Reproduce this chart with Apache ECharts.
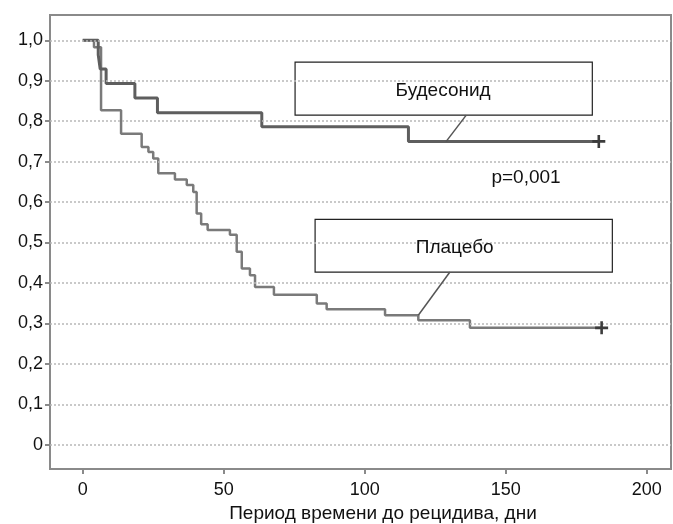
<!DOCTYPE html>
<html>
<head>
<meta charset="utf-8">
<script src="https://cdn.jsdelivr.net/npm/echarts@6/dist/echarts.min.js"></script>
<style>
  html, body { margin: 0; padding: 0; background: #fff; }
  #chart { width: 673px; height: 524px; }
</style>
</head>
<body>
<div id="chart"></div>
<script>
// Kaplan-Meier data (time in days, survival share)
const budTime = [0, 5.5, 6.2, 8.3, 18.5, 26.5, 63.5, 115.5, 183];
const budSurv = [1, 0.964, 0.929, 0.893, 0.857, 0.821, 0.786, 0.75, 0.75];
const placTime = [0, 4, 6.5, 13.6, 20.9, 23.3, 25, 26.8, 32.7, 36.9, 39.2, 40.4, 42, 44.3, 52.2, 54.6, 56.4, 59.3, 61.1, 67.8, 83, 86.5, 107.2, 119, 137.3, 184];
const placSurv = [1, 0.983, 0.827, 0.769, 0.736, 0.724, 0.708, 0.671, 0.656, 0.642, 0.625, 0.572, 0.545, 0.531, 0.519, 0.477, 0.436, 0.419, 0.39, 0.371, 0.349, 0.335, 0.32, 0.308, 0.289, 0.289];

// axis ticks
const xTicks = [0, 50, 100, 150, 200];
const yTicks = [0, 0.1, 0.2, 0.3, 0.4, 0.5, 0.6, 0.7, 0.8, 0.9, 1.0];
const yTickLabels = ['0', '0,1', '0,2', '0,3', '0,4', '0,5', '0,6', '0,7', '0,8', '0,9', '1,0'];

// annotation texts
const budLabel = 'Будесонид';
const placLabel = 'Плацебо';
const pLabel = 'p=0,001';

const font = 'Liberation Sans, Arial, sans-serif';
const textColor = '#111';
const plusPath = 'path://M4,0h2v4h4v2h-4v4h-2v-4h-4v-2h4z';

const chart = echarts.init(document.getElementById('chart'));

function pairs(xs, ys) {
  return xs.map((x, i) => [x, ys[i]]);
}

function textSeries(pos, text) {
  return {
    type: 'scatter',
    data: [pos],
    symbolSize: 0,
    z: 8,
    silent: true,
    itemStyle: { opacity: 1 },
    label: {
      show: true, position: 'inside', formatter: text,
      fontFamily: font, fontSize: 19, color: textColor
    }
  };
}

const option = {
  animation: false,
  backgroundColor: '#fff',
  grid: {
    left: 50, right: 2, top: 15, bottom: 55,
    show: true,
    borderColor: '#8a8a8a',
    borderWidth: 2,
    outerBoundsMode: 'none'
  },
  xAxis: {
    type: 'value',
    min: -11.6,
    max: 208.6,
    name: 'Период времени до рецидива, дни',
    nameLocation: 'middle',
    nameGap: 35,
    nameTextStyle: { fontFamily: font, fontSize: 19, color: textColor, padding: [0, 0, 0, 45] },
    axisLine: { show: true, onZero: false, lineStyle: { color: '#8a8a8a', width: 2 } },
    axisTick: { show: true, length: 5, customValues: xTicks, lineStyle: { color: '#8a8a8a', width: 2 } },
    axisLabel: { customValues: xTicks, margin: 12, fontFamily: font, fontSize: 18, color: textColor },
    splitLine: { show: false }
  },
  yAxis: {
    type: 'value',
    min: -0.06,
    max: 1.0625,
    axisLine: { show: true, onZero: false, lineStyle: { color: '#8a8a8a', width: 2 } },
    axisTick: { show: true, length: 5, customValues: yTicks, lineStyle: { color: '#8a8a8a', width: 2 } },
    axisLabel: {
      customValues: yTicks,
      margin: 7,
      fontFamily: font, fontSize: 18, color: textColor,
      formatter: function (v) {
        const i = yTicks.findIndex(t => Math.abs(t - v) < 1e-6);
        return i >= 0 ? yTickLabels[i] : '';
      }
    },
    splitLine: { show: false }
  },
  series: [
    {
      // dotted grid lines
      type: 'line',
      data: [],
      z: 1,
      silent: true,
      markLine: {
        silent: true,
        symbol: 'none',
        label: { show: false },
        lineStyle: { color: '#b8b8b8', type: [2, 2], width: 1.5 },
        data: yTicks.map(v => ({ yAxis: v }))
      }
    },
    {
      name: placLabel,
      type: 'line',
      step: 'end',
      data: pairs(placTime, placSurv),
      showSymbol: false,
      z: 3,
      lineStyle: { color: '#7a7a7a', width: 2.5 }
    },
    {
      name: budLabel,
      type: 'line',
      step: 'end',
      data: pairs(budTime, budSurv),
      showSymbol: false,
      z: 4,
      lineStyle: { color: '#5e5e5e', width: 3 }
    },
    {
      // censor marks
      type: 'scatter',
      data: [[budTime[budTime.length - 1], budSurv[budSurv.length - 1]],
             [placTime[placTime.length - 1], placSurv[placSurv.length - 1]]],
      symbol: plusPath,
      symbolSize: 13,
      z: 5,
      itemStyle: { color: '#3c3c3c', opacity: 1 }
    },
    {
      // leader lines
      type: 'line',
      data: [[136, 0.815], [128.9, 0.75]],
      showSymbol: false,
      z: 5,
      lineStyle: { color: '#555', width: 1.5 }
    },
    {
      type: 'line',
      data: [[130.2, 0.427], [119, 0.32]],
      showSymbol: false,
      z: 5,
      lineStyle: { color: '#555', width: 1.5 }
    },
    {
      // label boxes
      type: 'line',
      data: [],
      z: 6,
      markArea: {
        silent: true,
        itemStyle: { color: '#fff', opacity: 1, borderColor: '#222', borderWidth: 1.2 },
        label: { show: false },
        data: [
          [{ coord: [75.3, 0.946] }, { coord: [180.7, 0.815] }],
          [{ coord: [82.4, 0.557] }, { coord: [187.8, 0.427] }]
        ]
      }
    },
    textSeries([127.8, 0.876], budLabel),
    textSeries([131.9, 0.486], placLabel),
    textSeries([157.2, 0.661], pLabel)
  ]
};

chart.setOption(option);
</script>
</body>
</html>
